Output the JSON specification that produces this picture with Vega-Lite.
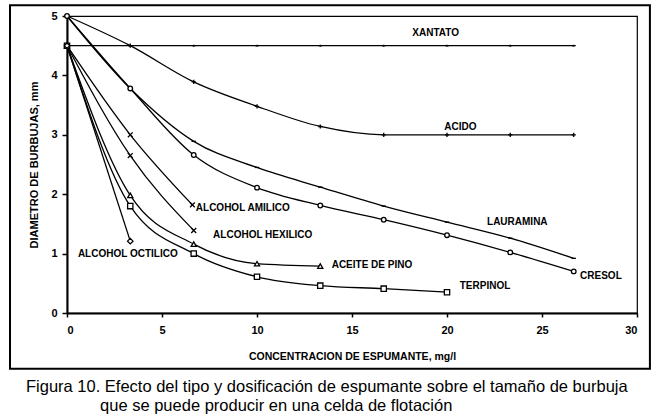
{
  "$schema": "https://vega.github.io/schema/vega-lite/v6.json",
  "width": 570,
  "height": 297,
  "autosize": {"type": "none"},
  "padding": {"left": 67, "top": 16, "right": 23, "bottom": 105},
  "background": "white",
  "config": {
    "view": {"stroke": "black", "strokeWidth": 1.2},
    "font": "Liberation Sans"
  },
  "datasets": {
    "curvas": [
      {"serie": "XANTATO", "c": 0, "d": 4.5},
      {"serie": "XANTATO", "c": 3.33, "d": 4.5},
      {"serie": "XANTATO", "c": 6.67, "d": 4.5},
      {"serie": "XANTATO", "c": 10, "d": 4.5},
      {"serie": "XANTATO", "c": 13.33, "d": 4.5},
      {"serie": "XANTATO", "c": 16.67, "d": 4.5},
      {"serie": "XANTATO", "c": 20, "d": 4.5},
      {"serie": "XANTATO", "c": 23.33, "d": 4.5},
      {"serie": "XANTATO", "c": 26.67, "d": 4.5},
      {"serie": "ACIDO", "c": 0, "d": 5},
      {"serie": "ACIDO", "c": 3.33, "d": 4.5},
      {"serie": "ACIDO", "c": 6.67, "d": 3.89},
      {"serie": "ACIDO", "c": 10, "d": 3.48},
      {"serie": "ACIDO", "c": 13.33, "d": 3.14},
      {"serie": "ACIDO", "c": 16.67, "d": 3.0},
      {"serie": "ACIDO", "c": 20, "d": 3.0},
      {"serie": "ACIDO", "c": 23.33, "d": 3.0},
      {"serie": "ACIDO", "c": 26.67, "d": 3.0},
      {"serie": "LAURAMINA", "c": 0, "d": 5},
      {"serie": "LAURAMINA", "c": 3.33, "d": 3.78},
      {"serie": "LAURAMINA", "c": 6.67, "d": 2.89},
      {"serie": "LAURAMINA", "c": 10, "d": 2.45},
      {"serie": "LAURAMINA", "c": 13.33, "d": 2.12},
      {"serie": "LAURAMINA", "c": 16.67, "d": 1.8},
      {"serie": "LAURAMINA", "c": 20, "d": 1.53},
      {"serie": "LAURAMINA", "c": 23.33, "d": 1.26},
      {"serie": "LAURAMINA", "c": 26.67, "d": 0.92},
      {"serie": "CRESOL", "c": 0, "d": 5},
      {"serie": "CRESOL", "c": 3.33, "d": 3.78},
      {"serie": "CRESOL", "c": 6.67, "d": 2.66},
      {"serie": "CRESOL", "c": 10, "d": 2.11},
      {"serie": "CRESOL", "c": 13.33, "d": 1.81},
      {"serie": "CRESOL", "c": 16.67, "d": 1.57},
      {"serie": "CRESOL", "c": 20, "d": 1.31},
      {"serie": "CRESOL", "c": 23.33, "d": 1.02},
      {"serie": "CRESOL", "c": 26.67, "d": 0.7},
      {"serie": "ALCOHOL AMILICO", "c": 0, "d": 4.5},
      {"serie": "ALCOHOL AMILICO", "c": 3.33, "d": 3.0},
      {"serie": "ALCOHOL AMILICO", "c": 6.6, "d": 1.82},
      {"serie": "ALCOHOL HEXILICO", "c": 0, "d": 4.5},
      {"serie": "ALCOHOL HEXILICO", "c": 3.33, "d": 2.65},
      {"serie": "ALCOHOL HEXILICO", "c": 6.67, "d": 1.39},
      {"serie": "ACEITE DE PINO", "c": 0, "d": 4.5},
      {"serie": "ACEITE DE PINO", "c": 3.33, "d": 1.98},
      {"serie": "ACEITE DE PINO", "c": 6.67, "d": 1.16},
      {"serie": "ACEITE DE PINO", "c": 10, "d": 0.83},
      {"serie": "ACEITE DE PINO", "c": 13.33, "d": 0.79},
      {"serie": "TERPINOL", "c": 0, "d": 4.5},
      {"serie": "TERPINOL", "c": 3.33, "d": 1.8},
      {"serie": "TERPINOL", "c": 6.67, "d": 1.0},
      {"serie": "TERPINOL", "c": 10, "d": 0.61},
      {"serie": "TERPINOL", "c": 13.33, "d": 0.46},
      {"serie": "TERPINOL", "c": 16.67, "d": 0.41},
      {"serie": "TERPINOL", "c": 20, "d": 0.35},
      {"serie": "ALCOHOL OCTILICO", "c": 0, "d": 4.5},
      {"serie": "ALCOHOL OCTILICO", "c": 3.33, "d": 1.21}
    ],
    "etiquetas": [
      {"texto": "XANTATO", "c": 19.4, "d": 4.71},
      {"texto": "ACIDO", "c": 20.7, "d": 3.13},
      {"texto": "LAURAMINA", "c": 23.7, "d": 1.53},
      {"texto": "CRESOL", "c": 28.1, "d": 0.62},
      {"texto": "TERPINOL", "c": 22.0, "d": 0.45},
      {"texto": "ACEITE DE PINO", "c": 16.05, "d": 0.8},
      {"texto": "ALCOHOL AMILICO", "c": 9.25, "d": 1.76},
      {"texto": "ALCOHOL HEXILICO", "c": 10.3, "d": 1.31},
      {"texto": "ALCOHOL OCTILICO", "c": 3.2, "d": 1.0}
    ]
  },
  "layer": [
    {
      "data": {"values": [{"x1": -3.0, "x2": 30.68, "y1": 5.18, "y2": -0.94}]},
      "mark": {"type": "rect", "fill": null, "stroke": "black", "strokeWidth": 2},
      "encoding": {
        "x": {"field": "x1", "type": "quantitative", "scale": {"domain": [0, 30], "nice": false, "zero": false}},
        "x2": {"field": "x2"},
        "y": {"field": "y1", "type": "quantitative", "scale": {"domain": [0, 5], "nice": false, "zero": false}},
        "y2": {"field": "y2"}
      }
    },
    {
      "data": {"name": "curvas"},
      "mark": {"type": "line", "interpolate": "monotone", "stroke": "black", "strokeWidth": 1.3},
      "encoding": {
        "x": {
          "field": "c", "type": "quantitative",
          "scale": {"domain": [0, 30], "nice": false, "zero": false},
          "axis": {
            "title": "CONCENTRACION DE ESPUMANTE, mg/l",
            "values": [0, 5, 10, 15, 20, 25, 30],
            "grid": false,
            "domainColor": "black", "domainWidth": 2,
            "tickColor": "black", "tickSize": 4, "tickWidth": 1.5,
            "labelFont": "Liberation Sans", "labelFontWeight": "bold", "labelFontSize": 11, "labelColor": "black",
            "labelPadding": 7,
            "titleFont": "Liberation Sans", "titleFontWeight": "bold", "titleFontSize": 10.5, "titleColor": "black",
            "titlePadding": 16
          }
        },
        "y": {
          "field": "d", "type": "quantitative",
          "scale": {"domain": [0, 5], "nice": false, "zero": false},
          "axis": {
            "title": "DIAMETRO DE BURBUJAS, mm",
            "values": [0, 0.5, 1, 1.5, 2, 2.5, 3, 3.5, 4, 4.5, 5],
            "format": "~g",
            "grid": false,
            "domainColor": "black", "domainWidth": 2,
            "tickColor": "black", "tickSize": 5, "tickWidth": 1.5,
            "labelFont": "Liberation Sans", "labelFontWeight": "bold", "labelFontSize": 11, "labelColor": "black",
            "labelPadding": 5,
            "titleFont": "Liberation Sans", "titleFontWeight": "bold", "titleFontSize": 11, "titleColor": "black",
            "titlePadding": 11
          }
        },
        "detail": {"field": "serie", "type": "nominal"}
      }
    },
    {
      "data": {"name": "curvas"},
      "mark": {"type": "point", "filled": true, "fill": "white", "stroke": "black", "strokeWidth": 1.3, "opacity": 1},
      "encoding": {
        "x": {"field": "c", "type": "quantitative"},
        "y": {"field": "d", "type": "quantitative"},
        "shape": {
          "field": "serie", "type": "nominal", "legend": null,
          "scale": {
            "domain": ["XANTATO", "ACIDO", "LAURAMINA", "CRESOL", "ALCOHOL AMILICO", "ALCOHOL HEXILICO", "ACEITE DE PINO", "TERPINOL", "ALCOHOL OCTILICO"],
            "range": ["M-1,0H1M0,-0.5V0.5", "M-1,0H1M0,-1V1", "M-1,0H1", "circle", "M-1,-1L1,1M-1,1L1,-1", "M-1,-1L1,1M-1,1L1,-1", "triangle-up", "square", "diamond"]
          }
        },
        "size": {
          "field": "serie", "type": "nominal", "legend": null,
          "scale": {
            "domain": ["XANTATO", "ACIDO", "LAURAMINA", "CRESOL", "ALCOHOL AMILICO", "ALCOHOL HEXILICO", "ACEITE DE PINO", "TERPINOL", "ALCOHOL OCTILICO"],
            "range": [16, 30, 16, 50, 20, 20, 45, 45, 30]
          }
        }
      }
    },
    {
      "data": {"name": "etiquetas"},
      "mark": {"type": "text", "font": "Liberation Sans", "fontWeight": "bold", "fontSize": 10, "fill": "black", "align": "center", "baseline": "middle"},
      "encoding": {
        "x": {"field": "c", "type": "quantitative"},
        "y": {"field": "d", "type": "quantitative"},
        "text": {"field": "texto"}
      }
    },
    {
      "data": {"values": [
        {"linea": "Figura 10. Efecto del tipo y dosificación de espumante sobre el tamaño de burbuja", "c": -2.16, "d": -1.335},
        {"linea": "que se puede producir en una celda de flotación", "c": 1.74, "d": -1.655}
      ]},
      "mark": {"type": "text", "font": "Liberation Sans", "fontSize": 16.5, "fill": "black", "align": "left", "baseline": "alphabetic"},
      "encoding": {
        "x": {"field": "c", "type": "quantitative"},
        "y": {"field": "d", "type": "quantitative"},
        "text": {"field": "linea"}
      }
    }
  ]
}
